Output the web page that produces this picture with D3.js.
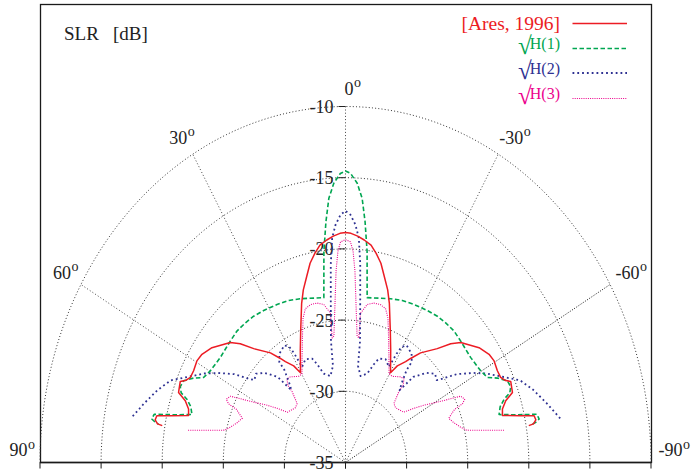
<!DOCTYPE html>
<html>
<head>
<meta charset="utf-8">
<script src="https://cdn.jsdelivr.net/npm/d3@7"></script>
<style>
  html, body { margin: 0; padding: 0; background: #fff; }
  svg { display: block; font-family: "Liberation Serif", "Times New Roman", serif; }
</style>
</head>
<body>
<svg id="chart" width="692" height="472"></svg>
<script>
// Side-lobe ratio patterns, listed for 0..90 deg; each pattern is symmetric about 0 deg.
const aresAngle = [0, 1.6, 3.6, 5.6, 7.8, 9.7, 11.7, 13.7, 15.9, 17.8, 21.5, 25.1, 30.3, 32.0, 34.8, 36.1, 38.6, 43.2, 45.9, 48.2, 53.6, 57.1, 59.6, 62.6, 64.8, 66.1, 67.2, 70.2, 71.7, 73.7, 75.6, 77.1, 78.0, 79.1, 80.0, 80.2];
const aresDb    = [-18.85, -18.9, -19.07, -19.3, -19.59, -20.1, -20.71, -21.57, -22.4, -23.26, -25.0, -26.28, -27.7, -27.0, -26.38, -25.96, -25.15, -24.03, -23.01, -22.35, -21.42, -21.01, -20.9, -21.0, -20.97, -20.74, -20.33, -20.48, -21.19, -21.62, -21.74, -20.29, -19.22, -19.14, -19.38, -19.78];

const h1Angle = [0, 1.2, 2.8, 4.2, 5.4, 6.8, 8.7, 17.8, 22.2, 26.8, 32.1, 36.2, 39.9, 43.9, 47.9, 54.3, 59.8, 62.8, 64.5, 66.6, 68.5, 70.0, 71.1, 72.8, 75.0, 76.6, 77.8, 79.1, 79.7, 80.0];
const h1Db    = [-14.53, -14.7, -15.37, -16.4, -18.0, -20.07, -23.29, -22.92, -22.71, -22.57, -22.4, -22.27, -22.22, -22.19, -22.29, -22.38, -22.2, -21.94, -21.23, -20.56, -20.47, -20.69, -21.28, -21.75, -21.99, -20.53, -18.98, -18.86, -19.17, -19.46];

const h2Angle = [0, 1.35, 2.8, 3.96, 4.95, 6.07, 7.94, 8.6, 11.5, 15.9, 18.6, 20.5, 24.3, 27.9, 28.7, 29.5, 31.3, 35.3, 37.5, 37.6, 39.6, 41.1, 42.7, 46.5, 49.6, 52.2, 53.6, 55.7, 59.0, 61.6, 65.1, 68.0, 71.7, 75.9, 80.0];
const h2Db    = [-17.33, -17.6, -18.29, -19.2, -21.03, -23.61, -26.39, -28.14, -28.81, -28.51, -27.72, -27.21, -27.04, -27.41, -26.29, -25.68, -25.37, -25.64, -26.1, -26.81, -27.8, -28.26, -26.82, -25.85, -25.38, -25.56, -25.05, -23.99, -22.79, -21.86, -20.74, -19.59, -18.8, -18.0, -17.16];

const h3Angle = [0, 1.5, 2.4, 3.3, 4.3, 6.1, 7.1, 6.7, 9.1, 11.7, 14.5, 16.9, 18.9, 21.3, 25.4, 29.8, 32.3, 36.9, 39.2, 41.0, 41.3, 43.7, 46.8, 53.4, 55.8, 57.9, 60.6, 62.5, 63.7, 65.5, 66.7, 67.3, 69.8, 72.4, 75.3, 77.1, 78.7, 80.1];
const h3Db    = [-19.35, -19.5, -20.16, -21.55, -23.64, -26.07, -26.19, -24.44, -23.76, -23.57, -23.55, -23.71, -24.28, -25.32, -26.72, -27.83, -27.84, -27.48, -27.43, -27.8, -28.39, -29.27, -29.38, -29.08, -28.23, -27.43, -26.37, -25.3, -24.49, -24.28, -24.58, -25.32, -26.0, -25.72, -25.25, -24.83, -23.44, -21.83];

// Radial axis and angular grid
const radialTicks = [-10, -15, -20, -25, -30, -35];
const radialTickLabels = ["-10", "-15", "-20", "-25", "-30", "-35"];
const ringLevels = [-10, -15, -20, -25, -30];
const spokeAngles = [0, 30, -30, 60, -60];
const angleLabelAngles = [0, 30, -30, 60, -60, 90, -90];
const angleLabelTexts = ["0", "30", "-30", "60", "-60", "90", "-90"];

// Legend
const legendNames = ["[Ares, 1996]", "H(1)", "H(2)", "H(3)"];
const legendColors = ["#ec1c24", "#00a651", "#2e3192", "#ec008c"];

// ---- geometry ----
const cx = 345.5, cy = 462.5, RX = 305.5, RY = 356;
const rX = d3.scaleLinear().domain([-35, -10]).range([0, RX]);
const rY = d3.scaleLinear().domain([-35, -10]).range([0, RY]);
const rad = a => a * Math.PI / 180;
const px = (a, v) => cx - rX(v) * Math.sin(rad(a));
const py = (a, v) => cy - rY(v) * Math.cos(rad(a));

const svg = d3.select("#chart");

// frame
svg.append("rect")
  .attr("x", 40.5).attr("y", 4.5)
  .attr("width", 611).attr("height", cy - 4.5)
  .attr("fill", "none").attr("stroke", "#1a1a1a").attr("stroke-width", 1.3);

const grid = svg.append("g").attr("fill", "none");
const arcAngles = d3.range(-90, 90.01, 1);
const polarLine = v => d3.line().x(a => px(a, v)).y(a => py(a, v));

ringLevels.forEach(v => {
  grid.append("path")
    .attr("d", polarLine(v)(arcAngles))
    .attr("stroke", "#333").attr("stroke-width", 1)
    .attr("stroke-dasharray", "1,2.2");
});

spokeAngles.forEach(a => {
  grid.append("line")
    .attr("x1", px(a, -35)).attr("y1", py(a, -35))
    .attr("x2", px(a, -10)).attr("y2", py(a, -10))
    .attr("stroke", a === -60 ? "#111" : "#444").attr("stroke-width", 1)
    .attr("stroke-dasharray", a === -60 ? "1,1.6" : "1,2.2");
});

// bottom axis (90 / -90 direction) with ticks
svg.append("line")
  .attr("x1", px(90, -10)).attr("y1", cy).attr("x2", px(-90, -10)).attr("y2", cy)
  .attr("stroke", "#1a1a1a").attr("stroke-width", 1.3);
radialTicks.forEach(v => {
  [90, -90].forEach(a => {
    svg.append("line")
      .attr("x1", px(a, v)).attr("x2", px(a, v))
      .attr("y1", cy).attr("y2", cy + 6)
      .attr("stroke", "#1a1a1a").attr("stroke-width", 1);
  });
});

// radial ticks and labels along the 0 deg spoke
radialTicks.forEach((v, i) => {
  const y = py(0, v);
  svg.append("line")
    .attr("x1", cx - 7).attr("x2", cx).attr("y1", y).attr("y2", y)
    .attr("stroke", "#222").attr("stroke-width", 1);
  svg.append("text")
    .attr("x", cx - 12).attr("y", y).attr("dy", "0.36em")
    .attr("text-anchor", "end").attr("font-size", 18).attr("fill", "#222")
    .text(radialTickLabels[i]);
});

// angle labels with degree marks
const labelOffsets = {
  "0": [-1, -12], "30": [-23.5, -10.5], "-30": [1, -10.5],
  "60": [-28, -6], "-60": [5.5, -6], "90": [-30.5, -6.5], "-90": [7.5, -6.5]
};
angleLabelAngles.forEach((a, i) => {
  const t = angleLabelTexts[i];
  const off = labelOffsets[t];
  const txt = svg.append("text")
    .attr("x", px(a, -10) + off[0]).attr("y", py(a, -10) + off[1])
    .attr("font-size", 18).attr("fill", "#222");
  txt.append("tspan").text(t);
  txt.append("tspan").attr("font-size", 14).attr("dy", -7.5).attr("dx", 0.5).text("o");
});

// "SLR [dB]"
const slr = svg.append("text").attr("y", 40).attr("font-size", 19).attr("fill", "#222");
slr.append("tspan").attr("x", 64).text("SLR");
slr.append("tspan").attr("x", 113).text("[dB]");

// ---- curves ----
function bothSides(angles, dbs) {
  const left = angles.map((a, i) => ({ a: a, v: dbs[i] }));
  const right = left.slice(1).map(d => ({ a: -d.a, v: d.v })).reverse();
  return right.concat(left);
}

const curveLine = d3.line().x(d => px(d.a, d.v)).y(d => py(d.a, d.v));

const series = [
  { data: bothSides(h3Angle, h3Db), color: legendColors[3], width: 1.1, dash: "1,1.2" },
  { data: bothSides(h2Angle, h2Db), color: legendColors[2], width: 1.8, dash: "1.8,3" },
  { data: bothSides(h1Angle, h1Db), color: legendColors[1], width: 1.6, dash: "4.5,2.5" },
  { data: bothSides(aresAngle, aresDb), color: legendColors[0], width: 1.5, dash: null }
];

const curves = svg.append("g").attr("fill", "none");
series.forEach(s => {
  curves.append("path")
    .attr("d", curveLine(s.data))
    .attr("stroke", s.color)
    .attr("stroke-width", s.width)
    .attr("stroke-linejoin", "round")
    .attr("stroke-dasharray", s.dash);
});

// ---- legend ----
const legendTextY = [30, 48.5, 73.5, 99];
const legendLineY = [23.5, 48.5, 73, 98.5];
const legendStyles = [
  { width: 1.5, dash: null },
  { width: 1.6, dash: "4.5,2.5" },
  { width: 1.8, dash: "1.8,3" },
  { width: 1.1, dash: "1,1.2" }
];
legendNames.forEach((name, i) => {
  const t = svg.append("text")
    .attr("x", 560).attr("y", legendTextY[i])
    .attr("text-anchor", "end").attr("fill", legendColors[i]);
  if (i === 0) {
    t.attr("font-size", 19.5).text(name);
  } else {
    t.append("tspan").attr("font-size", 25).attr("dy", 5).text("\u221A");
    t.append("tspan").attr("font-size", 16).attr("dx", -2).attr("dy", -5).text(name);
  }
  svg.append("line")
    .attr("x1", 572.5).attr("x2", 627).attr("y1", legendLineY[i]).attr("y2", legendLineY[i])
    .attr("stroke", legendColors[i]).attr("stroke-width", legendStyles[i].width)
    .attr("stroke-dasharray", legendStyles[i].dash);
});
</script>
</body>
</html>
